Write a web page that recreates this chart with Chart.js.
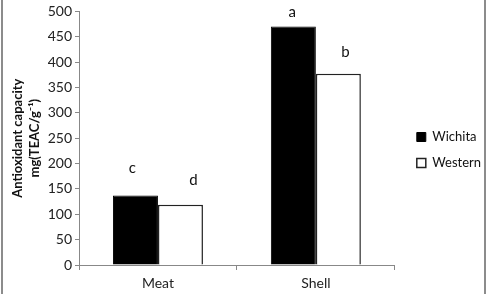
<!DOCTYPE html>
<html>
<head>
<meta charset="utf-8">
<script src="https://cdn.jsdelivr.net/npm/chart.js@4/dist/chart.umd.min.js"></script>
<style>
  html, body { margin: 0; padding: 0; background: #fff; }
  #wrap { position: relative; width: 488px; height: 294px; }
  .edge { position: absolute; top: 0; width: 2px; height: 294px; background: #8c8c8c; }
</style>
</head>
<body>
<div id="wrap">
  <canvas id="c" width="488" height="294"></canvas>
  <div class="edge" style="left:1px"></div>
  <div class="edge" style="left:484px"></div>
</div>
<script>
const categories = ['Meat', 'Shell'];
const seriesNames = ['Wichita', 'Western'];
const wichita = [137, 470];
const western = [119, 377];
const wichitaLetters = ['c', 'a'];
const westernLetters = ['d', 'b'];
const yTicks = [0, 50, 100, 150, 200, 250, 300, 350, 400, 450, 500];

const FONT = 'Lato, "Liberation Sans", sans-serif';
// label placement (style, px offsets from bar top-centre)
const letterOffsets = [
  [{ dx: -3, dy: -27 }, { dx: -1, dy: -14 }],
  [{ dx: 13, dy: -24 }, { dx: 7, dy: -22 }]
];

const letterPlugin = {
  id: 'letters',
  afterLayout(chart) {
    const lg = chart.legend;
    if (lg) { lg.left += 9; lg.right += 9; }
  },
  afterDatasetsDraw(chart) {
    const ctx = chart.ctx;
    const sets = [wichitaLetters, westernLetters];
    ctx.save();
    ctx.font = '15px ' + FONT;
    ctx.fillStyle = '#111';
    ctx.textAlign = 'center';
    ctx.textBaseline = 'middle';
    sets.forEach((letters, di) => {
      const meta = chart.getDatasetMeta(di);
      meta.data.forEach((bar, i) => {
        const o = letterOffsets[di][i];
        ctx.fillText(letters[i], bar.x + o.dx, bar.y + o.dy);
      });
    });
    ctx.restore();
  }
};

new Chart(document.getElementById('c'), {
  type: 'bar',
  data: {
    labels: categories,
    datasets: [
      { label: seriesNames[0], data: wichita, backgroundColor: '#000', borderColor: '#000', borderWidth: 1 },
      { label: seriesNames[1], data: western, backgroundColor: '#fff', borderColor: '#222', borderWidth: 1.5 }
    ]
  },
  options: {
    responsive: false,
    animation: false,
    devicePixelRatio: 1,
    layout: { padding: { left: 10, right: 6, top: 9, bottom: 3 } },
    datasets: { bar: { barPercentage: 1, categoryPercentage: 0.57 } },
    plugins: {
      tooltip: { enabled: false },
      legend: {
        position: 'right',
        align: 'center',
        labels: {
          boxWidth: 9, boxHeight: 9, padding: 13,
          color: '#111',
          font: { family: FONT, size: 13 }
        }
      }
    },
    scales: {
      x: {
        afterFit(scale) { scale.height = 26; },
        grid: { display: true, drawOnChartArea: false, drawTicks: true, tickLength: 5, offset: true, color: '#888' },
        border: { display: true, color: '#888', width: 1 },
        ticks: { color: '#222', font: { family: FONT, size: 14 }, padding: 5 }
      },
      y: {
        min: 0, max: 500,
        afterBuildTicks(scale) { scale.ticks = yTicks.map(v => ({ value: v })); },
        afterFit(scale) { scale.width = 69; },
        grid: { display: true, drawOnChartArea: false, drawTicks: true, tickLength: 4, color: '#888' },
        border: { display: true, color: '#888', width: 1 },
        ticks: { color: '#222', font: { family: FONT, size: 14 }, padding: 3 },
        title: {
          display: true,
          text: ['Antioxidant capacity', 'mg(TEAC/g\u207B\u00B9)'],
          color: '#111',
          font: { family: FONT, size: 13, weight: 'bold', lineHeight: 1.25 },
          padding: { top: 0, bottom: 2 }
        }
      }
    }
  },
  plugins: [letterPlugin]
});
</script>
</body>
</html>
